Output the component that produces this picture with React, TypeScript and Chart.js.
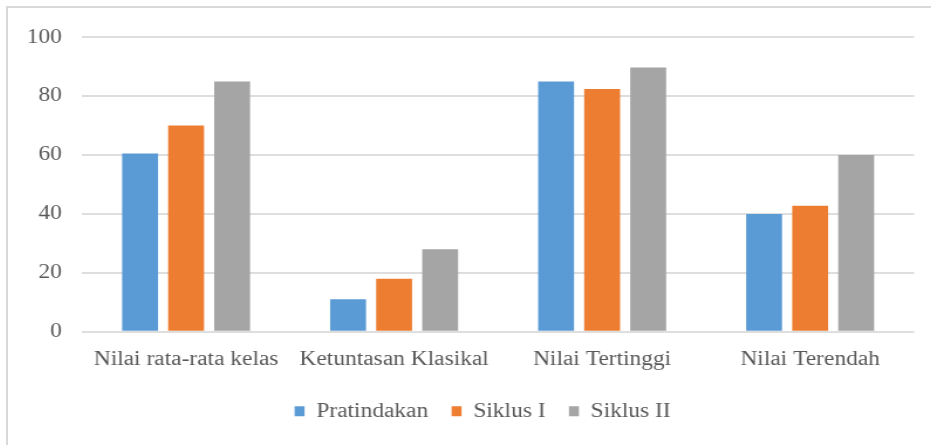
import React, { useEffect, useRef } from "react";
import { Chart, registerables } from "chart.js";

Chart.register(...registerables);

const categories = ["Nilai rata-rata kelas", "Ketuntasan Klasikal", "Nilai Tertinggi", "Nilai Terendah"];
const seriesNames = ["Pratindakan", "Siklus I", "Siklus II"];
const pratindakan = [60.5, 11, 85, 40];
const siklusI = [70, 18, 82.4, 42.8];
const siklusII = [85, 28, 89.7, 60];
const yTicks = [0, 20, 40, 60, 80, 100];
const colors = ["#5b9bd5", "#ed7d31", "#a5a5a5"];

const S = 1.17; // horizontal stretch of the original picture
const W = 923 / S;
const H = 437;
const LEGEND_SHIFT = 10.4;

export default function App() {
  const ref = useRef<HTMLCanvasElement | null>(null);

  useEffect(() => {
    if (!ref.current) return;
    const font = "'Liberation Serif', 'Times New Roman', serif";
    const shiftLegend = {
      id: "shiftLegend",
      afterLayout(chart: any) {
        const l = chart.legend;
        if (l) {
          l.left += LEGEND_SHIFT;
          l.right += LEGEND_SHIFT;
        }
      },
    };
    const chart = new Chart(ref.current, {
      type: "bar",
      data: {
        labels: categories,
        datasets: [pratindakan, siklusI, siklusII].map((d, i) => ({
          label: seriesNames[i],
          data: d,
          backgroundColor: colors[i],
          borderWidth: 0,
          categoryPercentage: 0.664,
          barPercentage: 0.78,
        })),
      },
      plugins: [shiftLegend],
      options: {
        animation: false,
        responsive: true,
        maintainAspectRatio: false,
        layout: { padding: { left: 16, right: 15.4, top: 28, bottom: 13.7 } },
        plugins: {
          tooltip: { enabled: false },
          legend: {
            position: "bottom",
            labels: {
              font: { family: font, size: 20 },
              color: "#595959",
              boxWidth: 8.5,
              boxHeight: 10,
              padding: 20,
            },
          },
        },
        scales: {
          x: {
            grid: { display: false, drawTicks: false },
            border: { display: false },
            ticks: {
              font: { family: font, size: 20 },
              color: "#595959",
              padding: 16,
              maxRotation: 0,
              autoSkip: false,
            },
            afterFit: (scale: any) => {
              scale.height = 49.6;
            },
          },
          y: {
            min: 0,
            max: 100,
            afterBuildTicks: (scale: any) => {
              scale.ticks = yTicks.map((v) => ({ value: v }));
            },
            grid: { color: "#dedede", lineWidth: 2, drawTicks: false },
            border: { display: false },
            ticks: {
              font: { family: font, size: 20 },
              color: "#595959",
              padding: 17.3,
            },
            afterFit: (scale: any) => {
              scale.width = 47.25;
            },
          },
        },
      },
    });
    return () => chart.destroy();
  }, []);

  return (
    <div style={{ position: "fixed", left: 0, top: 0, width: 931, height: 445, overflow: "hidden", background: "#fff" }}>
      <div
        style={{
          position: "absolute",
          left: 6,
          top: 6,
          width: 925,
          height: 439,
          borderTop: "2px solid #d9d9d9",
          borderLeft: "2px solid #d9d9d9",
          boxSizing: "border-box",
        }}
      />
      <div
        style={{
          position: "absolute",
          left: 8,
          top: 8,
          width: W,
          height: H,
          transform: `scaleX(${S})`,
          transformOrigin: "0 0",
        }}
      >
        <canvas ref={ref} />
      </div>
    </div>
  );
}
